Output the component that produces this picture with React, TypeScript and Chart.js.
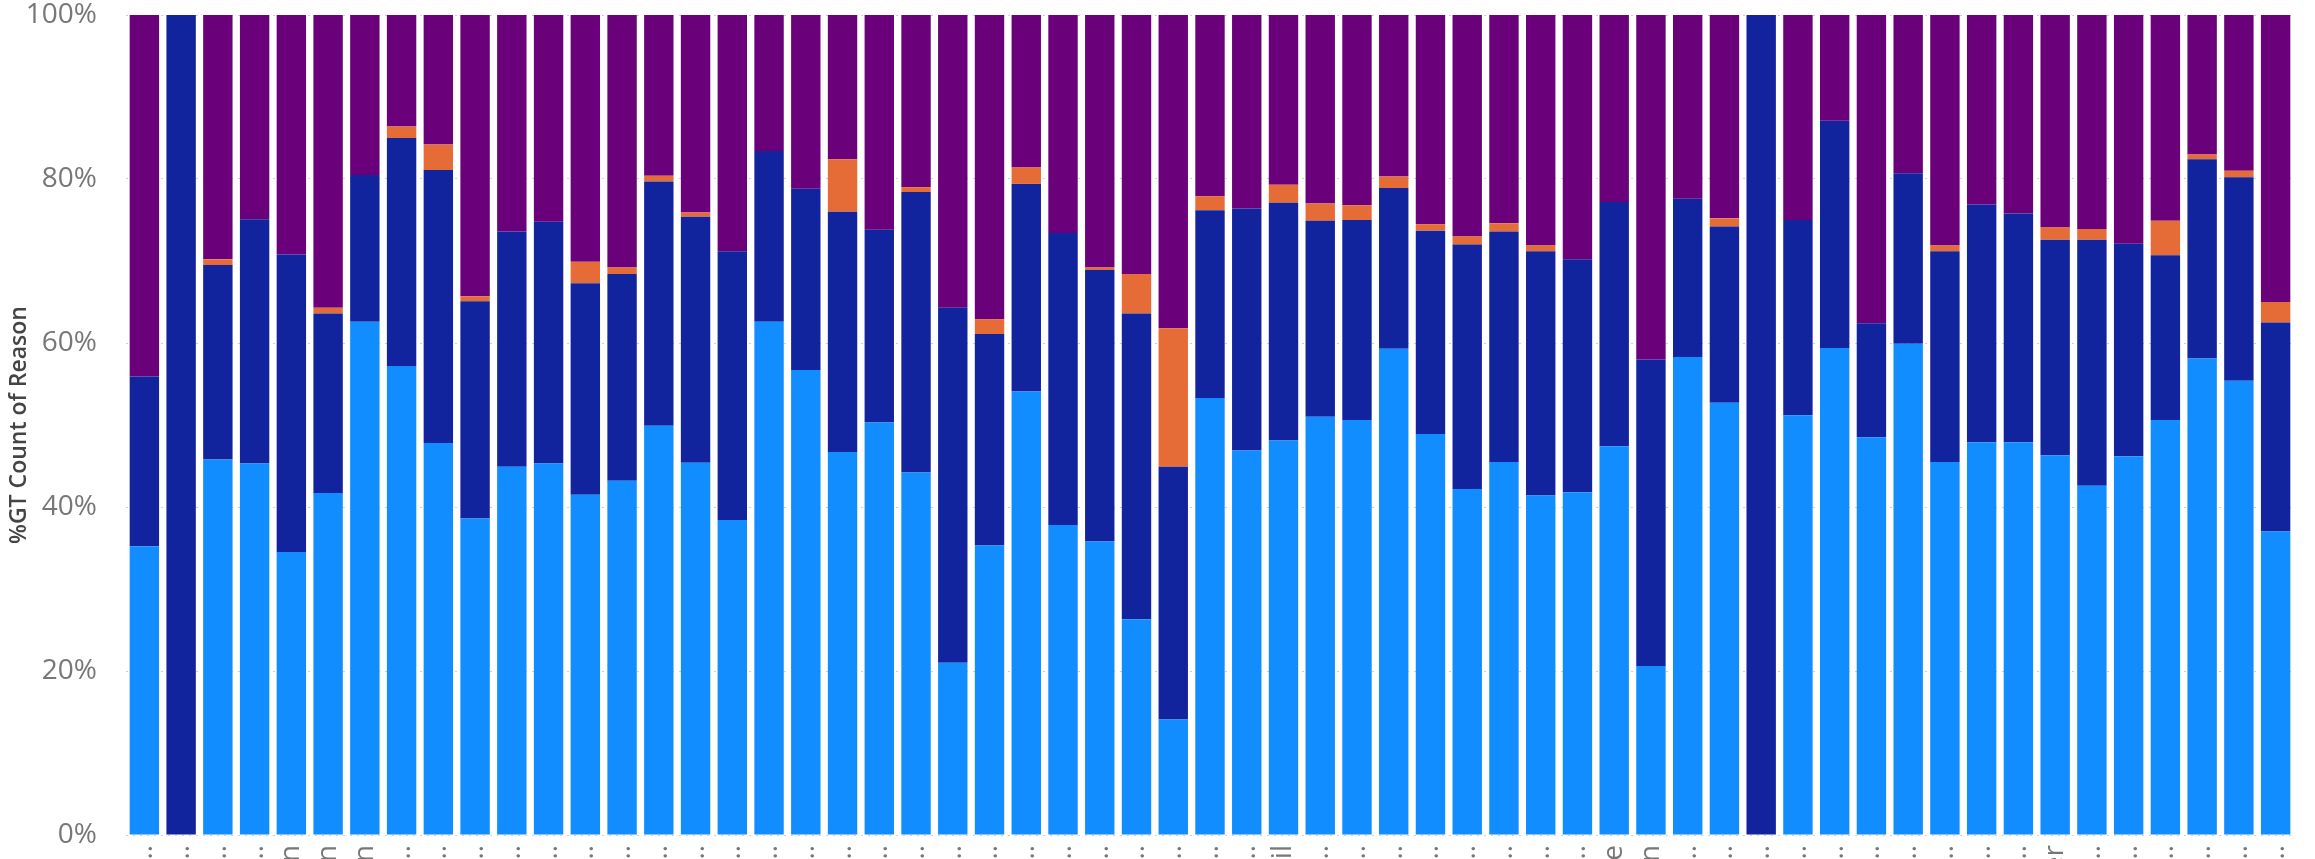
import React, { useEffect, useRef } from "react";
import { Chart, registerables } from "chart.js";

Chart.register(...registerables);

const categories: string[] = [
  "Reason 01…", "Reason 02…", "Reason 03…", "Reason 04…", "Return", "Promotion", "Action",
  "Reason 08…", "Reason 09…", "Reason 10…", "Reason 11…", "Reason 12…", "Reason 13…", "Reason 14…",
  "Reason 15…", "Reason 16…", "Reason 17…", "Reason 18…", "Reason 19…", "Reason 20…", "Reason 21…",
  "Reason 22…", "Reason 23…", "Reason 24…", "Reason 25…", "Reason 26…", "Reason 27…", "Reason 28…",
  "Reason 29…", "Reason 30…", "Reason 31…", "Email", "Reason 33…", "Reason 34…", "Reason 35…",
  "Reason 36…", "Reason 37…", "Reason 38…", "Reason 39…", "Reason 40…", "Late", "Position",
  "Reason 43…", "Reason 44…", "Reason 45…", "Reason 46…", "Reason 47…", "Reason 48…", "Reason 49…",
  "Reason 50…", "Reason 51…", "Reason 52…", "Other", "Reason 54…", "Reason 55…", "Reason 56…",
  "Reason 57…", "Reason 58…", "Reason 59…",
];

const seriesNames = ["Type 1", "Type 2", "Type 3", "Type 4"];

const seriesLight: number[] = [
  35.2, 0, 45.8, 45.3, 34.5, 41.7, 62.6, 57.2, 47.8, 38.6,
  44.9, 45.3, 41.5, 43.2, 49.9, 45.4, 38.4, 62.6, 56.7, 46.7,
  50.3, 44.2, 21.0, 35.3, 54.1, 37.8, 35.8, 26.3, 14.1, 53.3,
  46.9, 48.1, 51.0, 50.6, 59.3, 48.9, 42.2, 45.5, 41.4, 41.8,
  47.4, 20.6, 58.3, 52.7, 0, 51.2, 59.4, 48.5, 59.9, 45.5,
  47.9, 47.9, 46.3, 42.6, 46.2, 50.6, 58.1, 55.4, 37.0,
];

const seriesDark: number[] = [
  20.7, 100, 23.7, 29.8, 36.3, 21.9, 17.9, 27.8, 33.3, 26.5,
  28.7, 29.5, 25.8, 25.2, 29.8, 30.0, 32.8, 20.8, 22.1, 29.3,
  23.5, 34.2, 43.3, 25.8, 25.3, 35.6, 33.1, 37.3, 30.8, 22.9,
  29.5, 29.0, 23.9, 24.4, 19.6, 24.8, 29.8, 28.1, 29.8, 28.4,
  29.8, 37.4, 19.3, 21.5, 100, 23.8, 27.7, 13.9, 20.8, 25.7,
  29.0, 27.9, 26.3, 30.0, 25.9, 20.1, 24.3, 24.8, 25.5,
];

const seriesOrange: number[] = [
  0, 0, 0.7, 0, 0, 0.7, 0, 1.4, 3.1, 0.6,
  0, 0, 2.6, 0.8, 0.7, 0.5, 0, 0, 0, 6.4,
  0, 0.6, 0, 1.8, 2.0, 0, 0.3, 4.8, 16.9, 1.7,
  0, 2.2, 2.1, 1.8, 1.4, 0.8, 1.0, 1.0, 0.7, 0,
  0, 0, 0, 1.0, 0, 0, 0, 0, 0, 0.7,
  0, 0, 1.5, 1.3, 0, 4.2, 0.6, 0.8, 2.5,
];

const seriesPurple: number[] = [
  44.1, 0, 29.8, 24.9, 29.2, 35.7, 19.5, 13.6, 15.8, 34.3,
  26.4, 25.2, 30.1, 30.8, 19.6, 24.1, 28.8, 16.6, 21.2, 17.6,
  26.2, 21.0, 35.7, 37.1, 18.6, 26.6, 30.8, 31.6, 38.2, 22.1,
  23.6, 20.7, 23.0, 23.2, 19.7, 25.5, 27.0, 25.4, 28.1, 29.8,
  22.8, 42.0, 22.4, 24.8, 0, 25.0, 12.9, 37.6, 19.3, 28.1,
  23.1, 24.2, 25.9, 26.1, 27.9, 25.1, 17.0, 19.0, 35.0,
];

const seriesColors = ["#118DFF", "#12239E", "#E66C37", "#6B007B"];
const yTickValues = [0, 20, 40, 60, 80, 100];
const yTitle = "%GT Count of Reason";

const W = 2315;
const H = 859;
const FAMILY = "'Open Sans', 'Noto Sans', sans-serif";

export default function App() {
  const ref = useRef<HTMLCanvasElement | null>(null);

  useEffect(() => {
    if (!ref.current) return;
    Chart.defaults.font.family = FAMILY;
    Chart.defaults.font.size = 28;
    const seriesData = [seriesLight, seriesDark, seriesOrange, seriesPurple];
    const chart = new Chart(ref.current, {
      type: "bar",
      data: {
        labels: categories,
        datasets: seriesData.map((d, i) => ({
          label: seriesNames[i],
          data: d,
          backgroundColor: seriesColors[i],
          borderWidth: 0,
          barPercentage: 0.8,
          categoryPercentage: 1,
        })),
      },
      options: {
        responsive: false,
        animation: false,
        devicePixelRatio: 1,
        layout: { padding: { top: 15, right: 21, left: 0, bottom: 0 } },
        plugins: {
          legend: { display: false },
          tooltip: { enabled: false },
        },
        scales: {
          x: {
            stacked: true,
            grid: { display: false, drawTicks: false },
            border: { display: false },
            ticks: {
              autoSkip: false,
              minRotation: 90,
              maxRotation: 90,
              padding: 10,
              color: "#777777",
              font: { family: FAMILY, size: 28, lineHeight: 1 },
            },
            afterFit: (s: any) => {
              s.height = H - 835;
            },
          },
          y: {
            stacked: true,
            min: 0,
            max: 100,
            afterBuildTicks: (s: any) => {
              s.ticks = yTickValues.map((v) => ({ value: v }));
            },
            ticks: {
              callback: (v: any) => `${v}%`,
              padding: 0,
              color: "#777777",
              font: { family: FAMILY, size: 28, lineHeight: 1 },
            },
            grid: {
              color: "#D0D0D0",
              lineWidth: 1,
              drawTicks: true,
              tickLength: 29,
              tickColor: "rgba(0,0,0,0)",
            },
            border: { display: false, dash: [2, 5] },
            title: {
              display: true,
              text: yTitle,
              color: "#444444",
              padding: { top: 6, bottom: 0 },
              font: { family: FAMILY, size: 23, weight: "600", lineHeight: 1.2 },
            },
            afterFit: (s: any) => {
              s.width = 126;
            },
          },
        },
      },
    });
    return () => chart.destroy();
  }, []);

  return (
    <div style={{ position: "fixed", left: 0, top: 0, width: W, height: H, background: "#fff", overflow: "hidden" }}>
      <canvas ref={ref} width={W} height={H} style={{ width: W, height: H, display: "block" }} />
    </div>
  );
}
